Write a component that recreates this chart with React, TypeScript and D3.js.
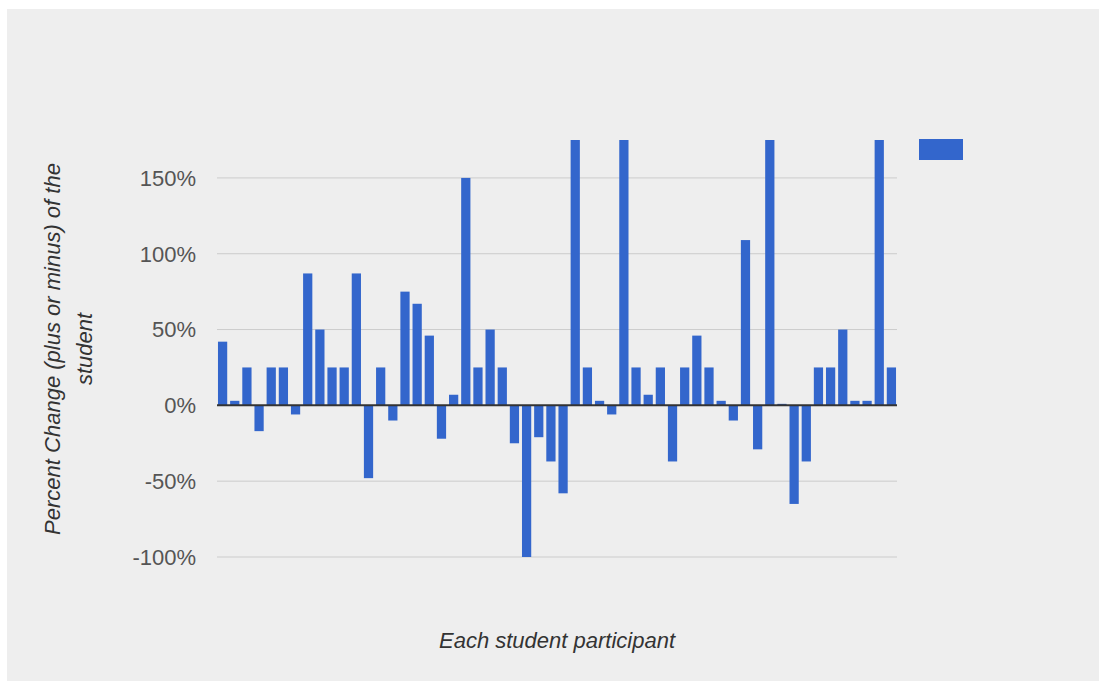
import { useMemo } from "react";
import * as d3 from "d3";

// percent change per student (tall ones run past the top of the chart)
const values = [
  42, 3, 25, -17, 25, 25, -6, 87, 50, 25, 25, 87, -48, 25, -10, 75, 67, 46, -22, 7,
  150, 25, 50, 25, -25, -100, -21, -37, -58, 200, 25, 3, -6, 200, 25, 7, 25, -37, 25, 46,
  25, 3, -10, 109, -29, 200, 1, -65, -37, 25, 25, 50, 3, 3, 200, 25,
];
const students = values.map((_, i) => `Student ${i + 1}`);
const yTicks = [-100, -50, 0, 50, 100, 150];

const WIDTH = 1099;
const HEIGHT = 681;
const LEFT = 217;
const RIGHT = 897;
const TOP = 140;
const BOTTOM = 557;
const BLUE = "#3366cc";
const FONT = "'Liberation Sans', Arial, sans-serif";

export default function App() {
  const x = useMemo(
    () => d3.scaleBand<string>().domain(students).range([LEFT, RIGHT]).paddingInner(0.24).paddingOuter(0.08),
    []
  );
  const y = useMemo(() => d3.scaleLinear().domain([-100, 175]).range([BOTTOM, TOP]), []);

  return (
    <svg
      width={WIDTH}
      height={HEIGHT}
      style={{ position: "absolute", left: 0, top: 0, display: "block" }}
      fontFamily={FONT}
    >
      <rect x={7} y={9} width={WIDTH - 7} height={HEIGHT - 9} fill="#eeeeee" />
      <defs>
        <clipPath id="plot">
          <rect x={LEFT} y={TOP} width={RIGHT - LEFT} height={BOTTOM - TOP + 1} />
        </clipPath>
      </defs>

      {yTicks.map((t) => (
        <g key={t}>
          {t !== 0 && <line x1={LEFT} x2={RIGHT} y1={y(t)} y2={y(t)} stroke="#cccccc" strokeWidth={1} />}
          <text x={196} y={y(t)} dy="0.36em" textAnchor="end" fontSize={22} fill="#555555">
            {t}%
          </text>
        </g>
      ))}

      <g clipPath="url(#plot)">
        {values.map((v, i) => (
          <rect
            key={i}
            x={x(students[i])}
            width={x.bandwidth()}
            y={y(Math.max(v, 0))}
            height={Math.abs(y(v) - y(0))}
            fill={BLUE}
          />
        ))}
      </g>

      <line x1={LEFT} x2={RIGHT} y1={y(0)} y2={y(0)} stroke="#333333" strokeWidth={2} />

      <rect x={919} y={139} width={44} height={21} fill={BLUE} />

      <text x={557} y={648} textAnchor="middle" fontSize={22} fontStyle="italic" fill="#333333">
        Each student participant
      </text>
      <g transform="translate(0, 349) rotate(-90)" fontSize={22} fontStyle="italic" fill="#333333">
        <text x={0} y={60} textAnchor="middle">
          Percent Change (plus or minus) of the
        </text>
        <text x={0} y={92} textAnchor="middle">
          student
        </text>
      </g>
    </svg>
  );
}
